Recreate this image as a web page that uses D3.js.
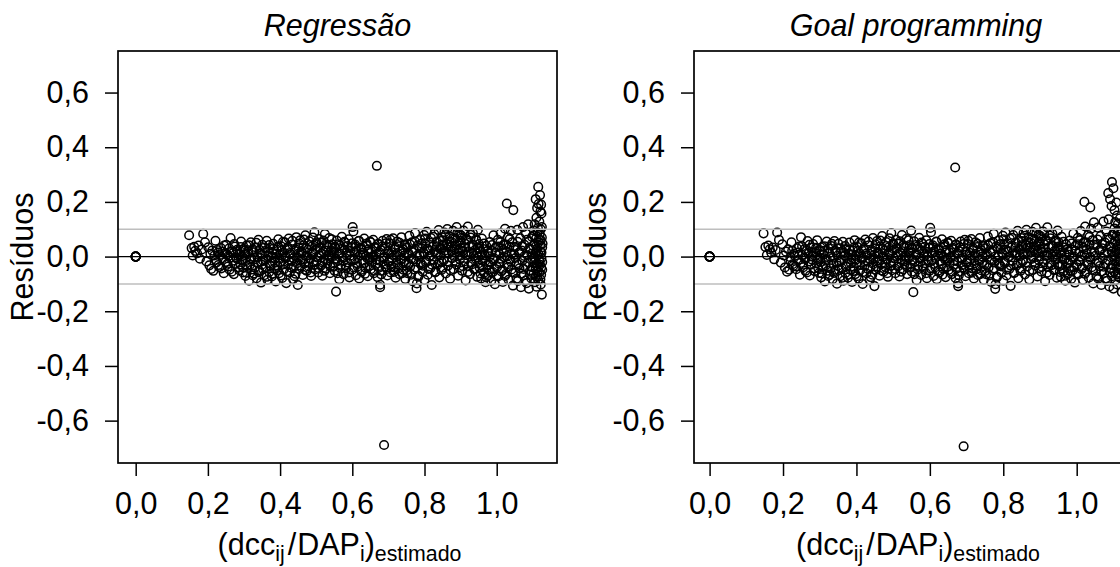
<!DOCTYPE html>
<html>
<head>
<meta charset="utf-8">
<script src="https://cdn.jsdelivr.net/npm/d3@7"></script>
<style>
  body { margin: 0; background: #fff; }
  svg { display: block; font-family: "Liberation Sans", Arial, sans-serif; }
</style>
</head>
<body>
<script>
// residuos vs (dcc/DAP) estimado
var regressao = [
  [0,0],[0,0],[0,0],[0,0],[0,0],[0,0],
  [.148,.078],[.155,.031],[.158,.004],[.162,.036],[.165,.021],[.170,.012],[.174,.040],[.178,-.008],[.183,.026],[.187,.083],[.192,.052],[.196,-.018],
  [.201,.034],[.204,-.032],[.207,.010],[.209,-.045],[.212,.022],[.215,-.052],[.218,.004],[.221,.058],[.224,-.021],[.228,.015],[.232,-.038],[.236,.031],[.240,-.006],[.244,-.061],[.248,.012],
  [.251,.043],[.254,-.026],[.257,.002],[.260,-.048],[.263,.068],[.266,.019],[.269,-.015],[.272,-.064],[.275,.037],[.278,-.003],[.281,.025],[.284,-.041],[.287,.009],[.290,-.029],[.292,.055],[.295,-.012],[.297,-.058],[.299,.028],
  [.302,.006],[.304,-.071],[.307,.040],[.309,-.034],[.312,.018],[.314,-.088],[.317,-.011],[.319,.052],[.322,-.047],[.324,.027],[.327,-.062],[.329,-.004],[.332,.034],[.335,-.079],[.337,-.021],[.340,.061],[.342,-.052],[.345,.012],[.347,-.095],[.349,-.030],
  [.351,.043],[.353,-.015],[.356,-.068],[.358,.020],[.360,-.039],[.363,.058],[.365,-.085],[.367,.001],[.370,-.056],[.372,.031],[.374,-.024],[.377,-.073],[.379,.012],[.381,.047],[.384,-.044],[.386,-.008],[.388,-.091],[.391,.025],[.393,-.033],[.395,.063],[.397,-.061],[.399,.005],
  [.401,-.020],[.403,.038],[.406,-.078],[.408,.015],[.410,-.047],[.413,.052],[.415,-.006],[.417,-.097],[.420,.028],[.422,-.031],[.424,.066],[.427,-.058],[.429,.008],[.431,-.016],[.434,.044],[.436,-.083],[.438,-.037],[.441,.021],[.443,-.063],[.445,.071],[.447,-.002],[.449,-.104],
  [.451,.033],[.453,-.045],[.456,.060],[.458,-.012],[.460,.014],[.463,-.067],[.465,.041],[.467,-.026],[.470,.078],[.472,.002],[.474,-.052],[.477,.025],[.479,-.036],[.481,.056],[.484,-.008],[.486,-.071],[.488,.037],[.491,.011],[.493,-.021],[.495,.089],[.497,-.047],[.499,.046],
  [.501,-.015],[.503,.029],[.506,-.058],[.508,.064],[.510,.004],[.513,-.033],[.515,.050],[.517,-.070],[.520,.018],[.522,-.009],[.524,.082],[.527,-.044],[.529,.036],[.531,-.025],[.534,.007],[.536,.068],[.538,-.061],[.541,.023],[.543,-.003],[.545,.045],[.547,-.038],[.549,.012],
  [.551,-.052],[.553,.031],[.555,-.128],[.557,.059],[.559,-.017],[.562,.008],[.564,-.083],[.566,.040],[.569,-.030],[.571,.072],[.573,-.005],[.576,-.064],[.578,.026],[.580,.051],[.583,-.042],[.585,.015],[.587,-.021],[.590,.063],[.592,-.076],[.594,.003],[.597,.035],[.599,-.049],
  [.601,.108],[.603,.092],[.605,-.013],[.608,.044],[.610,-.068],[.612,.021],[.615,-.036],[.617,.057],[.619,-.080],[.622,.006],[.624,.033],[.626,-.055],[.629,.014],[.631,-.024],[.633,.066],[.636,-.041],[.638,.002],[.640,.048],[.643,-.072],[.645,.027],[.647,-.010],[.649,.055],
  [.651,-.046],[.653,.019],[.656,-.003],[.658,.061],[.660,-.061],[.663,.035],[.665,-.027],[.667,.009],[.668,.332],[.670,-.075],[.672,.047],[.675,-.015],[.677,-.103],[.677,-.112],[.679,.024],[.681,-.052],[.684,.058],[.686,-.006],[.688,-.689],[.690,.030],[.692,-.037],[.695,.064],[.697,-.069],[.699,.010],
  [.701,-.021],[.703,.049],[.706,-.058],[.708,.017],[.710,-.004],[.713,.067],[.715,-.040],[.717,.028],[.720,-.077],[.722,.005],[.724,.055],[.727,-.030],[.729,.038],[.731,-.064],[.734,-.012],[.736,.071],[.738,.019],[.741,-.048],[.743,.003],[.745,.044],[.747,-.082],[.749,-.025],
  [.751,.033],[.753,-.061],[.756,.012],[.758,.076],[.760,-.037],[.763,-.008],[.765,.052],[.767,-.090],[.770,.024],[.772,-.047],[.774,.086],[.776,-.018],[.778,-.116],[.779,-.098],[.781,.041],[.783,-.070],[.786,.006],[.788,.063],[.790,-.029],[.793,.030],[.795,-.055],[.797,.015],[.799,.079],[.800,-.085],
  [.802,.047],[.804,-.021],[.806,.091],[.809,-.066],[.811,.023],[.813,.001],[.816,-.043],[.818,.068],[.820,-.104],[.822,.036],[.825,-.012],[.827,.082],[.829,-.058],[.832,.014],[.834,.054],[.836,-.030],[.839,.097],[.841,-.076],[.843,.029],[.845,.005],[.847,-.049],[.849,.071],[.850,.040],[.848,-.020],
  [.851,.060],[.853,-.014],[.855,.088],[.857,.022],[.859,-.062],[.861,.045],[.863,.101],[.865,-.033],[.867,.011],[.869,.074],[.871,-.081],[.873,.036],[.875,.053],[.877,-.006],[.879,.094],[.881,-.046],[.883,.027],[.885,.065],[.887,-.020],[.889,.108],[.891,.042],[.893,-.070],[.895,.016],[.896,.083],[.897,-.039],[.898,.058],[.899,.003],[.900,.031],
  [.902,.077],[.904,-.052],[.906,.020],[.908,.095],[.910,-.018],[.912,.048],[.914,-.087],[.916,.063],[.918,.005],[.920,.110],[.922,-.035],[.924,.037],[.926,-.064],[.928,.070],[.930,.012],[.932,-.028],[.934,.086],[.936,.041],[.938,-.047],[.940,.024],[.942,-.009],[.944,.059],[.946,-.074],[.947,.032],[.948,.098],[.949,-.003],
  [.951,.046],[.953,-.041],[.955,.018],[.957,-.080],[.959,.066],[.961,-.015],[.963,.028],[.965,-.059],[.967,.004],[.969,-.094],[.971,.039],[.973,-.031],[.975,-.070],[.977,.012],[.979,-.048],[.981,.053],[.983,-.022],[.985,-.088],[.987,.020],[.989,-.057],[.991,.078],[.993,-.006],[.995,-.101],[.997,.034],
  [1.001,-.038],[1.003,.061],[1.005,-.072],[1.007,.010],[1.009,-.019],[1.011,.085],[1.013,-.054],[1.015,.029],[1.017,-.093],[1.019,.043],[1.021,-.003],[1.023,.102],[1.025,-.064],[1.027,.018],[1.028,.194],[1.029,-.028],[1.031,.071],[1.033,-.085],[1.035,.036],[1.037,-.011],[1.039,.094],[1.041,-.047],[1.043,.052],[1.045,-.106],[1.046,.170],[1.048,.007],
  [1.051,-.060],[1.053,.035],[1.055,-.024],[1.057,.098],[1.059,-.089],[1.061,.014],[1.063,-.043],[1.065,.067],[1.067,-.112],[1.069,.022],[1.071,-.015],[1.073,.108],[1.075,-.068],[1.077,.043],[1.079,-.034],[1.081,.084],[1.083,-.097],[1.085,.005],[1.087,.118],[1.089,-.117],[1.090,.056],[1.092,-.052],[1.094,.026],[1.096,-.080],[1.098,.072],[1.099,-.008],
  [1.101,.040],[1.102,-.063],[1.103,.095],[1.104,-.021],[1.105,.118],[1.106,-.094],[1.107,.012],[1.108,.210],[1.108,-.045],[1.109,.066],[1.110,-.110],[1.110,.142],[1.111,.028],[1.112,-.073],[1.112,.178],[1.113,.003],[1.114,.104],[1.114,-.036],[1.115,.255],[1.115,-.085],[1.116,.052],[1.116,.192],[1.117,-.012],[1.118,.128],[1.118,-.058],[1.119,.082],[1.120,.225],[1.120,-.030],[1.121,.165],[1.121,.019],[1.122,-.102],[1.122,.060],[1.123,.190],[1.123,-.066],[1.124,.158],[1.124,-.005],[1.125,.108],[1.125,-.139],[1.126,.034],[1.126,-.048]
];

// denser core of the Regressão cloud
var regressaoNucleo = [
  [.222,-.012],[.226,.024],[.229,-.031],[.233,.006],[.237,-.043],[.241,.018],[.245,.040],[.249,-.020],[.253,.009],[.256,-.036],[.259,.030],[.262,-.004],[.266,-.055],[.270,.014],[.273,.046],[.277,-.027],[.280,-.008],[.283,.019],[.287,-.050],[.291,.035],[.294,.001],[.297,-.039],
  [.301,.022],[.304,-.017],[.307,-.059],[.311,.010],[.314,.041],[.317,-.029],[.320,-.006],[.324,-.068],[.327,.016],[.330,-.040],[.334,.050],[.337,-.001],[.340,-.057],[.343,.025],[.347,-.019],[.350,.007],[.353,-.046],[.357,.033],[.360,-.012],[.363,-.074],[.366,.019],[.370,.042],[.373,-.034],[.376,-.003],[.379,-.063],[.382,.029],[.386,-.022],[.389,.011],[.392,-.050],[.395,.037],[.399,-.009],
  [.402,-.069],[.405,.023],[.408,.054],[.411,-.028],[.415,.002],[.418,-.054],[.421,.034],[.424,-.015],[.427,.013],[.431,-.041],[.434,.058],[.437,-.005],[.440,-.072],[.443,.027],[.447,-.024],[.450,.010],[.453,.048],[.456,-.033],[.459,.020],[.463,-.011],[.466,.062],[.469,-.048],[.472,.031],[.475,.004],[.479,-.020],[.482,.042],[.485,-.058],[.488,.016],[.491,.070],[.495,-.030],[.498,.025],
  [.501,.052],[.504,-.004],[.507,-.042],[.511,.033],[.514,.011],[.517,-.021],[.520,.059],[.523,-.052],[.527,.022],[.530,.044],[.533,-.013],[.536,.001],[.539,-.036],[.543,.063],[.546,.017],[.549,-.025],[.552,.036],[.555,-.008],[.559,-.061],[.562,.045],[.565,.012],[.568,-.044],[.571,.028],[.575,-.016],[.578,.054],[.581,-.032],[.584,.004],[.587,.039],[.591,-.058],[.594,.020],[.597,-.010],
  [.600,.049],[.603,-.040],[.607,.015],[.610,.036],[.613,-.024],[.616,-.002],[.619,.058],[.623,-.049],[.626,.026],[.629,-.015],[.632,.008],[.635,-.063],[.639,.040],[.642,-.007],[.645,.019],[.648,-.034],[.651,.052],[.655,-.020],[.658,.003],[.661,-.052],[.664,.030],[.667,-.011],[.671,.046],[.674,-.041],[.677,.014],[.680,-.065],[.683,.037],[.687,-.003],[.690,-.028],[.693,.049],[.696,-.045],[.699,.021],
  [.703,-.014],[.706,.061],[.709,-.036],[.712,.006],[.715,-.056],[.719,.033],[.722,-.022],[.725,.013],[.728,-.043],[.731,.050],[.735,-.008],[.738,-.061],[.741,.026],[.744,-.019],[.747,.041],[.751,-.050],[.754,.009],[.757,-.027],[.760,.044],[.763,-.066],[.767,.017],[.770,-.010],[.773,.056],[.776,-.040],[.779,.003],[.783,-.074],[.786,.032],[.789,-.021],[.792,.048],[.795,-.033],[.799,.012],
  [.802,.066],[.805,-.014],[.808,.029],[.811,-.045],[.815,.051],[.818,.004],[.821,-.030],[.824,.072],[.827,.019],[.831,-.055],[.834,.038],[.837,.008],[.840,-.022],[.843,.060],[.847,.027],[.850,-.041],[.853,.045],[.856,.012],[.859,.079],[.863,-.018],[.866,.034],[.869,.056],[.872,-.050],[.875,.020],[.879,.068],[.882,.003],[.885,.041],[.888,-.029],[.891,.087],[.895,.025],[.898,-.010],
  [.901,.050],[.904,.070],[.907,-.035],[.911,.033],[.914,.006],[.917,.059],[.920,-.056],[.923,.017],[.927,.080],[.930,-.021],[.933,.044],[.936,.002],[.939,-.044],[.943,.063],[.946,.011],[.949,-.025],[.952,.031],[.955,-.062],[.959,.008],[.962,-.037],[.965,.048],[.968,-.016],[.971,-.076],[.975,.021],[.978,-.030],[.981,.001],[.984,-.058],[.987,.042],[.991,-.011],[.994,-.045],[.997,.015],
  [1.000,-.069],[1.004,.037],[1.007,-.026],[1.010,.052],[1.013,-.008],[1.016,-.049],[1.020,.023],[1.023,-.071],[1.026,.044],[1.029,.002],[1.032,-.037],[1.036,.064],[1.039,-.019],[1.042,.011],[1.045,-.058],[1.048,.035],[1.052,-.005],[1.055,-.081],[1.058,.054],[1.061,-.029],[1.064,.016],[1.068,-.063],[1.071,.038],[1.074,-.045],[1.077,.002],[1.080,-.088],[1.084,.061],[1.087,-.021],[1.090,.030],[1.093,-.066],[1.096,.010],[1.099,-.039],
  [1.102,.078],[1.104,-.004],[1.106,.046],[1.108,-.072],[1.110,.020],[1.111,-.026],[1.113,.088],[1.114,-.052],[1.116,.008],[1.117,.064],[1.119,-.017],[1.120,.041],[1.121,-.083],[1.122,.100],[1.123,-.040],[1.124,.015],[1.125,.070],[1.126,-.020],[1.127,.048]
];

var goalProg = [
  [0,0],[0,0],[0,0],[0,0],[0,0],[0,0],
  [.147,.085],[.152,.035],[.156,.006],[.160,.040],[.164,.027],[.168,.014],[.172,.033],[.176,-.010],[.180,.024],[.184,.088],[.189,.061],[.194,-.022],[.198,.045],
  [.202,.004],[.205,-.040],[.208,.018],[.211,-.055],[.214,.027],[.217,-.048],[.220,-.002],[.223,.052],[.226,-.028],[.230,.010],[.234,-.036],[.238,.030],[.242,-.012],[.246,-.066],[.249,.071],
  [.252,.038],[.255,-.030],[.258,-.004],[.261,-.052],[.264,.021],[.267,.057],[.270,-.018],[.273,-.069],[.276,.033],[.279,.001],[.282,.046],[.285,-.043],[.288,.013],[.291,-.025],[.293,.060],[.296,-.008],[.298,-.060],[.300,.024],
  [.302,-.006],[.304,-.076],[.307,.036],[.309,-.038],[.312,.021],[.314,-.091],[.317,-.015],[.319,.055],[.322,-.052],[.324,.030],[.327,-.066],[.329,-.001],[.332,.039],[.335,-.083],[.337,-.026],[.340,.057],[.342,-.048],[.345,.015],[.347,-.099],[.349,-.034],
  [.351,.047],[.353,-.019],[.356,-.072],[.358,.017],[.360,-.042],[.363,.054],[.365,-.088],[.367,.004],[.370,-.060],[.372,.028],[.374,-.027],[.377,-.077],[.379,.009],[.381,.051],[.384,-.048],[.386,-.011],[.388,-.093],[.391,.022],[.393,-.037],[.395,.060],[.397,-.064],[.399,.002],
  [.401,-.024],[.403,.035],[.406,-.081],[.408,.012],[.410,-.050],[.413,.049],[.415,-.009],[.417,-.100],[.420,.025],[.422,-.034],[.424,.062],[.427,-.061],[.429,.005],[.431,-.019],[.434,.041],[.436,-.086],[.438,-.040],[.441,.018],[.443,-.066],[.445,.068],[.447,-.005],[.449,-.108],
  [.451,.030],[.453,-.048],[.456,.057],[.458,-.015],[.460,.011],[.463,-.070],[.465,.038],[.467,-.029],[.470,.075],[.472,-.001],[.474,-.055],[.477,.022],[.479,-.039],[.481,.053],[.484,-.011],[.486,-.074],[.488,.034],[.491,.008],[.493,-.024],[.495,.086],[.497,-.050],[.499,.043],
  [.501,-.018],[.503,.026],[.506,-.061],[.508,.061],[.510,.001],[.513,-.036],[.515,.047],[.517,-.073],[.520,.015],[.522,-.012],[.524,.079],[.527,-.047],[.529,.033],[.531,-.028],[.534,.004],[.536,.065],[.538,-.064],[.541,.020],[.543,-.006],[.545,.042],[.547,-.041],[.549,.095],
  [.551,-.055],[.553,.028],[.555,-.130],[.557,.056],[.559,-.020],[.562,.005],[.564,-.086],[.566,.037],[.569,-.033],[.571,.069],[.573,-.008],[.576,-.067],[.578,.023],[.580,.048],[.583,-.045],[.585,.012],[.587,-.024],[.590,.060],[.592,-.079],[.594,.000],[.597,.032],[.599,-.052],
  [.601,.105],[.603,.089],[.605,-.016],[.608,.041],[.610,-.071],[.612,.018],[.615,-.039],[.617,.054],[.619,-.083],[.622,.003],[.624,.030],[.626,-.058],[.629,.011],[.631,-.027],[.633,.063],[.636,-.044],[.638,-.001],[.640,.045],[.643,-.075],[.645,.024],[.647,-.013],[.649,.052],
  [.651,-.049],[.653,.016],[.656,-.006],[.658,.058],[.660,-.064],[.663,.032],[.665,-.030],[.667,.006],[.669,.326],[.670,-.078],[.672,.044],[.675,-.018],[.677,-.098],[.677,-.108],[.679,.021],[.681,-.055],[.684,.055],[.686,-.009],[.692,-.694],[.690,.027],[.692,-.040],[.695,.061],[.697,-.072],[.699,.007],
  [.701,-.024],[.703,.046],[.706,-.061],[.708,.014],[.710,-.007],[.713,.064],[.715,-.043],[.717,.025],[.720,-.080],[.722,.002],[.724,.052],[.727,-.033],[.729,.035],[.731,-.067],[.734,-.015],[.736,.068],[.738,.016],[.741,-.051],[.743,.000],[.745,.041],[.747,-.085],[.749,-.028],
  [.751,.030],[.753,-.064],[.756,.009],[.758,.073],[.760,-.040],[.763,-.011],[.765,.049],[.767,-.093],[.770,.021],[.772,-.050],[.774,.083],[.776,-.021],[.778,-.118],[.779,-.101],[.781,.038],[.783,-.073],[.786,.003],[.788,.060],[.790,-.032],[.793,.027],[.795,-.058],[.797,.012],[.799,.076],[.800,-.088],
  [.802,.044],[.804,-.024],[.806,.088],[.809,-.069],[.811,.020],[.813,-.002],[.816,-.046],[.818,.065],[.820,-.107],[.822,.033],[.825,-.015],[.827,.079],[.829,-.061],[.832,.011],[.834,.051],[.836,-.033],[.839,.094],[.841,-.079],[.843,.026],[.845,.002],[.847,-.052],[.849,.068],[.850,.037],[.848,-.023],
  [.851,.057],[.853,-.017],[.855,.085],[.857,.019],[.859,-.065],[.861,.042],[.863,.098],[.865,-.036],[.867,.008],[.869,.071],[.871,-.084],[.873,.033],[.875,.050],[.877,-.009],[.879,.091],[.881,-.049],[.883,.024],[.885,.062],[.887,-.023],[.889,.105],[.891,.039],[.893,-.073],[.895,.013],[.896,.080],[.897,-.042],[.898,.055],[.899,.000],[.900,.028],
  [.902,.074],[.904,-.055],[.906,.017],[.908,.092],[.910,-.021],[.912,.045],[.914,-.090],[.916,.060],[.918,.002],[.920,.107],[.922,-.038],[.924,.034],[.926,-.067],[.928,.067],[.930,.009],[.932,-.031],[.934,.083],[.936,.038],[.938,-.050],[.940,.021],[.942,-.012],[.944,.056],[.946,-.077],[.947,.029],[.948,.095],[.949,-.006],
  [.951,.052],[.953,-.035],[.955,.024],[.957,-.074],[.959,.072],[.961,-.009],[.963,.034],[.965,-.053],[.967,.010],[.969,-.088],[.971,.045],[.973,-.025],[.975,-.064],[.977,.018],[.979,-.042],[.981,.059],[.983,-.016],[.985,-.082],[.987,.026],[.989,-.051],[.991,.084],[.993,.000],[.995,-.095],[.997,.040],
  [1.001,-.030],[1.003,.069],[1.005,-.064],[1.007,.018],[1.009,-.011],[1.011,.093],[1.013,-.046],[1.015,.037],[1.017,-.085],[1.019,.051],[1.021,.005],[1.021,.200],[1.023,.110],[1.025,-.056],[1.027,.026],[1.029,-.020],[1.031,.079],[1.033,-.077],[1.035,.044],[1.037,.180],[1.037,-.003],[1.039,.102],[1.041,-.039],[1.043,.060],[1.045,-.098],[1.047,.125],[1.048,.015],
  [1.051,-.052],[1.053,.043],[1.055,-.016],[1.057,.106],[1.059,-.081],[1.061,.022],[1.063,-.035],[1.065,.075],[1.067,-.104],[1.069,.030],[1.071,-.007],[1.073,.128],[1.075,-.060],[1.077,.051],[1.079,-.026],[1.081,.092],[1.083,-.089],[1.085,.013],[1.086,.232],[1.087,.136],[1.089,-.109],[1.090,.064],[1.091,.210],[1.092,-.044],[1.094,.034],[1.095,.185],[1.096,-.072],[1.096,.273],[1.098,.080],[1.099,.000],
  [1.100,.250],[1.100,-.117],[1.101,.048],[1.102,-.055],[1.103,.170],[1.103,.103],[1.104,-.013],[1.105,.126],[1.106,-.086],[1.107,.020],[1.108,.198],[1.108,-.037],[1.109,.074],[1.110,-.102],[1.110,.150],[1.111,.036],[1.112,-.065],[1.112,.118],[1.113,.011],[1.114,.092],[1.115,-.028],[1.116,.060],[1.117,-.077],[1.118,.140],[1.119,-.004],[1.120,.084],[1.121,-.050],[1.122,.030],[1.123,-.130],[1.124,.110]
];

// denser core of the Goal programming cloud
var goalProgNucleo = [
  [.221,-.015],[.225,.021],[.228,-.034],[.232,.003],[.236,-.046],[.240,.015],[.244,.037],[.248,-.023],[.252,.006],[.255,-.039],[.258,.027],[.261,-.007],[.265,-.058],[.269,.011],[.272,.043],[.276,-.030],[.279,-.011],[.282,.016],[.286,-.053],[.290,.032],[.293,-.002],[.296,-.042],
  [.300,.019],[.303,-.020],[.306,-.062],[.310,.007],[.313,.038],[.316,-.032],[.319,-.009],[.323,-.071],[.326,.013],[.329,-.043],[.333,.047],[.336,-.004],[.339,-.060],[.342,.022],[.346,-.022],[.349,.004],[.352,-.049],[.356,.030],[.359,-.015],[.362,-.077],[.365,.016],[.369,.039],[.372,-.037],[.375,-.006],[.378,-.066],[.381,.026],[.385,-.025],[.388,.008],[.391,-.053],[.394,.034],[.398,-.012],
  [.401,-.072],[.404,.020],[.407,.051],[.410,-.031],[.414,-.001],[.417,-.057],[.420,.031],[.423,-.018],[.426,.010],[.430,-.044],[.433,.055],[.436,-.008],[.439,-.075],[.442,.024],[.446,-.027],[.449,.007],[.452,.045],[.455,-.036],[.458,.017],[.462,-.014],[.465,.059],[.468,-.051],[.471,.028],[.474,.001],[.478,-.023],[.481,.039],[.484,-.061],[.487,.013],[.490,.067],[.494,-.033],[.497,.022],
  [.500,.049],[.503,-.007],[.506,-.045],[.510,.030],[.513,.008],[.516,-.024],[.519,.056],[.522,-.055],[.526,.019],[.529,.041],[.532,-.016],[.535,-.002],[.538,-.039],[.542,.060],[.545,.014],[.548,-.028],[.551,.033],[.554,-.011],[.558,-.064],[.561,.042],[.564,.009],[.567,-.047],[.570,.025],[.574,-.019],[.577,.051],[.580,-.035],[.583,.001],[.586,.036],[.590,-.061],[.593,.017],[.596,-.013],[.599,.046],
  [.602,-.043],[.606,.012],[.609,.033],[.612,-.027],[.615,-.005],[.618,.055],[.622,-.052],[.625,.023],[.628,-.018],[.631,.005],[.634,-.066],[.638,.037],[.641,-.010],[.644,.016],[.647,-.037],[.650,.049],[.654,-.023],[.657,.000],[.660,-.055],[.663,.027],[.666,-.014],[.670,.043],[.673,-.044],[.676,.011],[.679,-.068],[.682,.034],[.686,-.006],[.689,-.031],[.692,.046],[.695,-.048],[.698,.018],
  [.702,-.017],[.705,.058],[.708,-.039],[.711,.003],[.714,-.059],[.718,.030],[.721,-.025],[.724,.010],[.727,-.046],[.730,.047],[.734,-.011],[.737,-.064],[.740,.023],[.743,-.022],[.746,.038],[.750,-.053],[.753,.006],[.756,-.030],[.759,.041],[.762,-.069],[.766,.014],[.769,-.013],[.772,.053],[.775,-.043],[.778,.000],[.782,-.077],[.785,.029],[.788,-.024],[.791,.045],[.794,-.036],[.798,.009],
  [.801,.063],[.804,-.017],[.807,.026],[.810,-.048],[.814,.048],[.817,.001],[.820,-.033],[.823,.069],[.826,.016],[.830,-.058],[.833,.035],[.836,.005],[.839,-.025],[.842,.057],[.846,.024],[.849,-.044],[.852,.042],[.855,.009],[.858,.076],[.862,-.021],[.865,.031],[.868,.053],[.871,-.053],[.874,.017],[.878,.065],[.881,.000],[.884,.038],[.887,-.032],[.890,.084],[.894,.022],[.897,-.013],
  [.900,.047],[.903,.067],[.906,-.038],[.910,.030],[.913,.003],[.916,.056],[.919,-.059],[.922,.014],[.926,.077],[.929,-.024],[.932,.041],[.935,-.001],[.938,-.047],[.942,.060],[.945,.008],[.948,-.028],[.951,.037],[.954,-.056],[.958,.014],[.961,-.031],[.964,.054],[.967,-.010],[.970,-.070],[.974,.027],[.977,-.024],[.980,.007],[.983,-.052],[.986,.048],[.990,-.005],[.993,-.039],[.996,.021],[.999,-.062],
  [1.003,.045],[1.006,-.018],[1.009,.060],[1.012,.000],[1.015,-.041],[1.019,.031],[1.022,-.063],[1.025,.052],[1.028,.010],[1.031,-.029],[1.035,.072],[1.038,-.011],[1.041,.019],[1.044,-.050],[1.047,.043],[1.051,.003],[1.054,-.073],[1.057,.062],[1.060,-.021],[1.063,.024],[1.067,-.055],[1.070,.046],[1.073,-.037],[1.076,.010],[1.079,-.080],[1.083,.069],[1.086,-.013],[1.089,.038],[1.092,-.058],[1.095,.018],[1.098,-.031],
  [1.101,.086],[1.103,.004],[1.105,.054],[1.107,-.064],[1.109,.028],[1.110,-.018],[1.112,.096],[1.113,-.044],[1.115,.016],[1.116,.072],[1.118,-.009],[1.119,.049]
];

var titulos = ["Regressão", "Goal programming"];
var xTicks = [0, 0.2, 0.4, 0.6, 0.8, 1.0];
var yTicks = [-0.6, -0.4, -0.2, 0, 0.2, 0.4, 0.6];
var limites = [-0.1, 0.1];   // faixa cinza

var W = 1120, H = 567, fs = 30.5;
var yTop = 51, yBot = 463;

// two panels, the second runs off the right edge of the picture
var panels = [
  { title: titulos[0], data: regressao.concat(regressaoNucleo), left: 118, right: 557, xmin: -0.049, ytitle: 33 },
  { title: titulos[1], data: goalProg.concat(goalProgNucleo),  left: 694, right: 1138, xmin: -0.0425, ytitle: 606 }
];

var fmt = d3.formatLocale({ decimal: ",", thousands: ".", grouping: [3], currency: ["", ""], minus: "-" }).format(".1f");

var svg = d3.select("body").append("svg")
  .attr("width", W)
  .attr("height", H);

panels.forEach(function(p, k) {
  var x = d3.scaleLinear().domain([p.xmin, 1.167]).range([p.left, p.right]);
  var y = d3.scaleLinear().domain([-0.755, 0.752]).range([yBot, yTop]);
  var cx = (p.left + p.right) / 2;

  var g = svg.append("g");

  g.append("clipPath").attr("id", "clip" + k)
    .append("rect")
    .attr("x", p.left).attr("y", yTop)
    .attr("width", p.right - p.left).attr("height", yBot - yTop);

  var plot = g.append("g").attr("clip-path", "url(#clip" + k + ")");

  plot.selectAll("circle")
    .data(p.data)
    .enter().append("circle")
    .attr("cx", function(d) { return x(d[0]); })
    .attr("cy", function(d) { return y(d[1]); })
    .attr("r", 4.3)
    .attr("fill", "none")
    .attr("stroke", "#000")
    .attr("stroke-width", 1.5);

  plot.selectAll("line.lim")
    .data(limites)
    .enter().append("line")
    .attr("class", "lim")
    .attr("x1", p.left).attr("x2", p.right)
    .attr("y1", function(d) { return y(d); })
    .attr("y2", function(d) { return y(d); })
    .attr("stroke", "#bebebe")
    .attr("stroke-width", 1.5);

  plot.append("line")
    .attr("x1", p.left).attr("x2", p.right)
    .attr("y1", y(0)).attr("y2", y(0))
    .attr("stroke", "#000")
    .attr("stroke-width", 1.3);

  g.append("rect")
    .attr("x", p.left).attr("y", yTop)
    .attr("width", p.right - p.left).attr("height", yBot - yTop)
    .attr("fill", "none")
    .attr("stroke", "#000")
    .attr("stroke-width", 1.7);

  // axes
  var ay = g.append("g")
    .attr("transform", "translate(" + p.left + ",0)")
    .call(d3.axisLeft(y).tickValues(yTicks).tickSize(13).tickPadding(16).tickFormat(fmt));
  var ax = g.append("g")
    .attr("transform", "translate(0," + yBot + ")")
    .call(d3.axisBottom(x).tickValues(xTicks).tickSize(13).tickPadding(16).tickFormat(fmt));

  [ay, ax].forEach(function(a) {
    a.select(".domain").remove();
    a.attr("font-size", fs).attr("font-family", null);
    a.selectAll("line").attr("stroke-width", 1.5);
    a.selectAll("text").attr("fill", "#000");
  });

  g.append("text")
    .attr("x", cx).attr("y", 36)
    .attr("text-anchor", "middle")
    .attr("font-size", fs)
    .attr("font-style", "italic")
    .text(p.title);

  g.append("text")
    .attr("transform", "translate(" + p.ytitle + "," + ((yTop + yBot) / 2) + ") rotate(-90)")
    .attr("text-anchor", "middle")
    .attr("font-size", fs)
    .text("Resíduos");

  // (dcc_ij / DAP_i)_estimado
  var xt = g.append("text")
    .attr("x", cx + 2).attr("y", 555)
    .attr("text-anchor", "middle")
    .attr("font-size", fs);
  xt.append("tspan").text("(dcc");
  xt.append("tspan").attr("font-size", fs * 0.7).attr("dy", 6).text("ij");
  xt.append("tspan").attr("dy", -6).attr("dx", 3).text("/");
  xt.append("tspan").attr("dx", 1).text("DAP");
  xt.append("tspan").attr("font-size", fs * 0.7).attr("dy", 6).text("i");
  xt.append("tspan").attr("dy", -6).text(")");
  xt.append("tspan").attr("font-size", fs * 0.7).attr("dy", 6).text("estimado");
});
</script>
</body>
</html>
